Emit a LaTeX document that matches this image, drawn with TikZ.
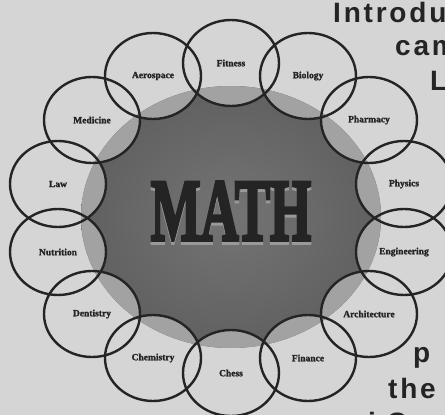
\documentclass[tikz,border=0pt]{standalone}
\usepackage{fontspec}
\setmainfont{Liberation Serif}
\newfontfamily\headfont{Liberation Sans}[LetterSpace=10]
\newfontfamily\corefont{Liberation Serif}[FakeBold=4]
\newfontfamily\subjfont{Liberation Serif}[FakeBold=1.5]
\usetikzlibrary{shapes.geometric}

\definecolor{paper}{HTML}{D5D5D5}
\definecolor{ink}{HTML}{242424}
\definecolor{lensgray}{HTML}{A2A2A2}
\definecolor{corein}{HTML}{747474}
\definecolor{coreout}{HTML}{606060}

\tikzset{
  subject/.style={ellipse, draw=ink, line width=2.4pt, minimum width=96pt,
    minimum height=86pt, inner sep=0pt, text=ink,
    font=\subjfont\bfseries\fontsize{9.5}{10}\selectfont},
  headtext/.style={anchor=base west, inner sep=0pt, text=ink,
    font=\headfont\bfseries\fontsize{28}{30}\selectfont},
}

% lens of a subject inside the core (x, y)
\newcommand{\lens}[2]{
    \fill[lensgray] (#1,#2) ellipse [x radius=48pt, y radius=43pt];
}
% subject circle (name, x, y, label)
\newcommand{\subject}[4]{
    \node[subject] (#1) at (#2,#3) {#4};
}

\begin{document}
\begin{tikzpicture}[x=1pt, y=-1pt]

  \useasboundingbox (0,0) rectangle (445,415);
  \clip (0,0) rectangle (445,415);
  \fill[paper] (0,0) rectangle (445,415);

  % core
  \shade[inner color=corein, outer color=coreout]
    (231,217) ellipse [x radius=150pt, y radius=131pt];

  \begin{scope}
    \clip (231,217) ellipse [x radius=150pt, y radius=131pt];
    \lens{231}{63}
    \lens{308}{76}
    \lens{369}{120}
    \lens{404}{184}
    \lens{404}{252}
    \lens{369}{314}
    \lens{308}{358}
    \lens{231}{373}
    \lens{153}{358}
    \lens{92}{314}
    \lens{58}{252}
    \lens{58}{184}
    \lens{92}{120}
    \lens{153}{76}
  \end{scope}

  \node[text=gray!70!paper] (math) at (231,214)
    {\scalebox{0.6}[1]{\corefont\bfseries\fontsize{88}{88}\selectfont MATH}};
  \node[text=ink] at (math.center) [yshift=3pt]
    {\scalebox{0.6}[1]{\corefont\bfseries\fontsize{88}{88}\selectfont MATH}};

  % (name, x, y, label)
  \subject{fitness}{231}{63}{Fitness}
  \subject{biology}{308}{76}{Biology}
  \subject{pharmacy}{369}{120}{Pharmacy}
  \subject{physics}{404}{184}{Physics}
  \subject{engineering}{404}{252}{Engineering}
  \subject{architecture}{369}{314}{Architecture}
  \subject{finance}{308}{358}{Finance}
  \subject{chess}{231}{373}{Chess}
  \subject{chemistry}{153}{358}{Chemistry}
  \subject{dentistry}{92}{314}{Dentistry}
  \subject{nutrition}{58}{252}{Nutrition}
  \subject{law}{58}{184}{Law}
  \subject{medicine}{92}{120}{Medicine}
  \subject{aerospace}{153}{76}{Aerospace}

  % cut-off text on the right
  \node[headtext] (intro) at (333,23) {Introdu};
  \node[headtext] (cam) at (395,55) {cam};
  \node[headtext] (ell) at (430,90) {L};
  \node[headtext] (pee) at (413,362) {p};
  \node[headtext] (the) at (388,398) {the};
  \node[headtext] (lastrow) at (368,432) {i C};

\end{tikzpicture}
\end{document}
